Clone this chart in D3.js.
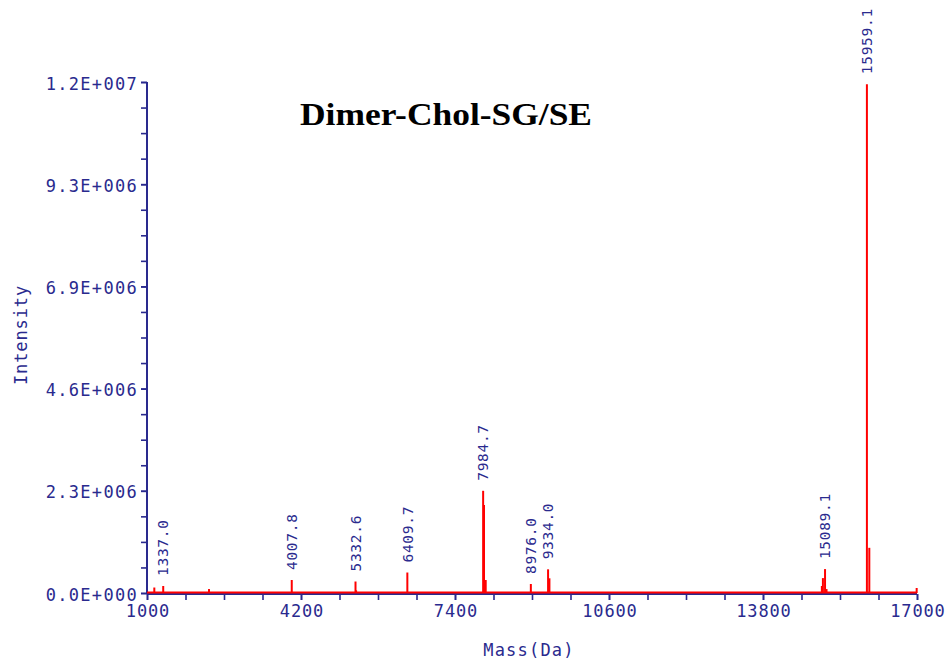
<!DOCTYPE html>
<html>
<head>
<meta charset="utf-8">
<script src="https://cdn.jsdelivr.net/npm/d3@7"></script>
<style>
  html, body { margin: 0; padding: 0; background: #ffffff; }
  svg { display: block; }
</style>
</head>
<body>
<svg id="chart" width="952" height="666"></svg>
<script>
// Deconvoluted mass spectrum: stick peaks (mass in Da, intensity in counts)
const peakMass = [1152, 1337.0, 2288, 4007.8, 5332.6, 5345, 6409.7, 7984.7, 8003, 8038,
                  8976.0, 9334.0, 9362, 15023, 15045, 15089.1, 15120, 15959.1, 16009, 16993];
const peakIntensity = [125000, 160000, 90000, 296000, 262000, 60000, 467000, 2330000, 2006000, 296000,
                       205000, 540000, 335000, 160000, 340000, 545000, 90000, 11600000, 1030000, 114000];

// Peaks carrying a mass annotation
const labelMass = [1337.0, 4007.8, 5332.6, 6409.7, 7984.7, 8976.0, 9334.0, 15089.1, 15959.1];

// Axis ticks
const xTickValues = [1000, 4200, 7400, 10600, 13800, 17000];
const xTickLabels = ["1000", "4200", "7400", "10600", "13800", "17000"];
const yTickValues = [0, 2330000, 4660000, 6990000, 9320000, 11650000];
const yTickLabels = ["0.0E+000", "2.3E+006", "4.6E+006", "6.9E+006", "9.3E+006", "1.2E+007"];

const title = "Dimer-Chol-SG/SE";
const xTitle = "Mass(Da)";
const yTitle = "Intensity";

const navy = "#2a2a8e";
const red = "#ff0000";
const monoFont = "'DejaVu Sans Mono', monospace";

const svg = d3.select("#chart");

const x = d3.scaleLinear().domain([1000, 17000]).range([147, 917]);
const y = d3.scaleLinear().domain([0, 11650000]).range([593, 82]);

// minor ticks: 4 subdivisions per major step
const xMinor = d3.range(1000, 17000 + 1, 800);
const yMinor = d3.range(0, 5 * 4 + 1).map(i => i * 11650000 / 20);

// Y axis
const yAxisMinor = d3.axisLeft(y).tickValues(yMinor).tickSize(6).tickFormat("");
svg.append("g").attr("transform", `translate(${x(1000)},0)`).call(yAxisMinor)
  .call(g => g.select(".domain").remove())
  .call(g => g.selectAll("line").attr("stroke", navy).attr("stroke-width", 1.6));

const yAxis = d3.axisLeft(y).tickValues(yTickValues).tickSize(6).tickPadding(3)
  .tickFormat((d, i) => yTickLabels[i]);
const gy = svg.append("g").attr("transform", `translate(${x(1000)},0)`).call(yAxis);
gy.select(".domain").attr("stroke", navy).attr("stroke-width", 2).attr("d", `M0,${y(11650000)}V${y(0) + 1}`);
gy.selectAll("line").attr("stroke", navy).attr("stroke-width", 1.6);
gy.selectAll("text")
  .attr("fill", navy)
  .attr("font-family", monoFont)
  .attr("font-size", 17)
  .attr("letter-spacing", 1.3)
  .attr("dy", "0.42em");

// X axis
const xAxisMinor = d3.axisBottom(x).tickValues(xMinor).tickSize(6).tickFormat("");
svg.append("g").attr("transform", `translate(0,${y(0) + 1})`).call(xAxisMinor)
  .call(g => g.select(".domain").remove())
  .call(g => g.selectAll("line").attr("stroke", navy).attr("stroke-width", 1.6));

const xAxis = d3.axisBottom(x).tickValues(xTickValues).tickSize(6).tickPadding(5)
  .tickFormat((d, i) => xTickLabels[i]);
const gx = svg.append("g").attr("transform", `translate(0,${y(0) + 1})`).call(xAxis);
gx.select(".domain").attr("stroke", navy).attr("stroke-width", 2).attr("d", `M${x(1000)},0H${x(17000)}`);
gx.selectAll("line").attr("stroke", navy).attr("stroke-width", 1.6);
gx.selectAll("text")
  .attr("fill", navy)
  .attr("font-family", monoFont)
  .attr("font-size", 17)
  .attr("letter-spacing", 0.8)
  .attr("dx", 0.4);

// Spectrum baseline
svg.append("line")
  .attr("x1", x(1000)).attr("x2", x(17000))
  .attr("y1", y(0) - 0.5).attr("y2", y(0) - 0.5)
  .attr("stroke", red).attr("stroke-width", 2.2);

// Peak sticks
const peaks = peakMass.map((m, i) => ({ mass: m, intensity: peakIntensity[i] }));
svg.append("g").selectAll("line").data(peaks).join("line")
  .attr("x1", d => x(d.mass)).attr("x2", d => x(d.mass))
  .attr("y1", y(0)).attr("y2", d => y(d.intensity))
  .attr("stroke", red).attr("stroke-width", 2);

// Peak annotations (rotated)
const labels = labelMass.map(m => ({ mass: m, intensity: peakIntensity[peakMass.indexOf(m)] }));
svg.append("g").selectAll("text").data(labels).join("text")
  .attr("transform", d => `translate(${x(d.mass)},${y(d.intensity) - 10}) rotate(-90)`)
  .attr("dy", "0.36em")
  .attr("fill", navy)
  .attr("font-family", monoFont)
  .attr("font-size", 14.5)
  .attr("letter-spacing", 0.7)
  .text(d => d.mass.toFixed(1));

// Axis titles
svg.append("text")
  .attr("x", 529).attr("y", 656)
  .attr("text-anchor", "middle")
  .attr("fill", navy)
  .attr("font-family", monoFont)
  .attr("font-size", 17)
  .attr("letter-spacing", 1.2)
  .text(xTitle);

svg.append("text")
  .attr("transform", "translate(27,335) rotate(-90)")
  .attr("text-anchor", "middle")
  .attr("fill", navy)
  .attr("font-family", monoFont)
  .attr("font-size", 17)
  .attr("letter-spacing", 0.9)
  .text(yTitle);

// Chart title
svg.append("text")
  .attr("x", 300).attr("y", 125)
  .attr("fill", "#000000")
  .attr("font-family", "'Liberation Serif', 'Times New Roman', serif")
  .attr("font-weight", "bold")
  .attr("font-size", 32)
  .attr("textLength", 292)
  .attr("lengthAdjust", "spacingAndGlyphs")
  .text(title);
</script>
</body>
</html>
